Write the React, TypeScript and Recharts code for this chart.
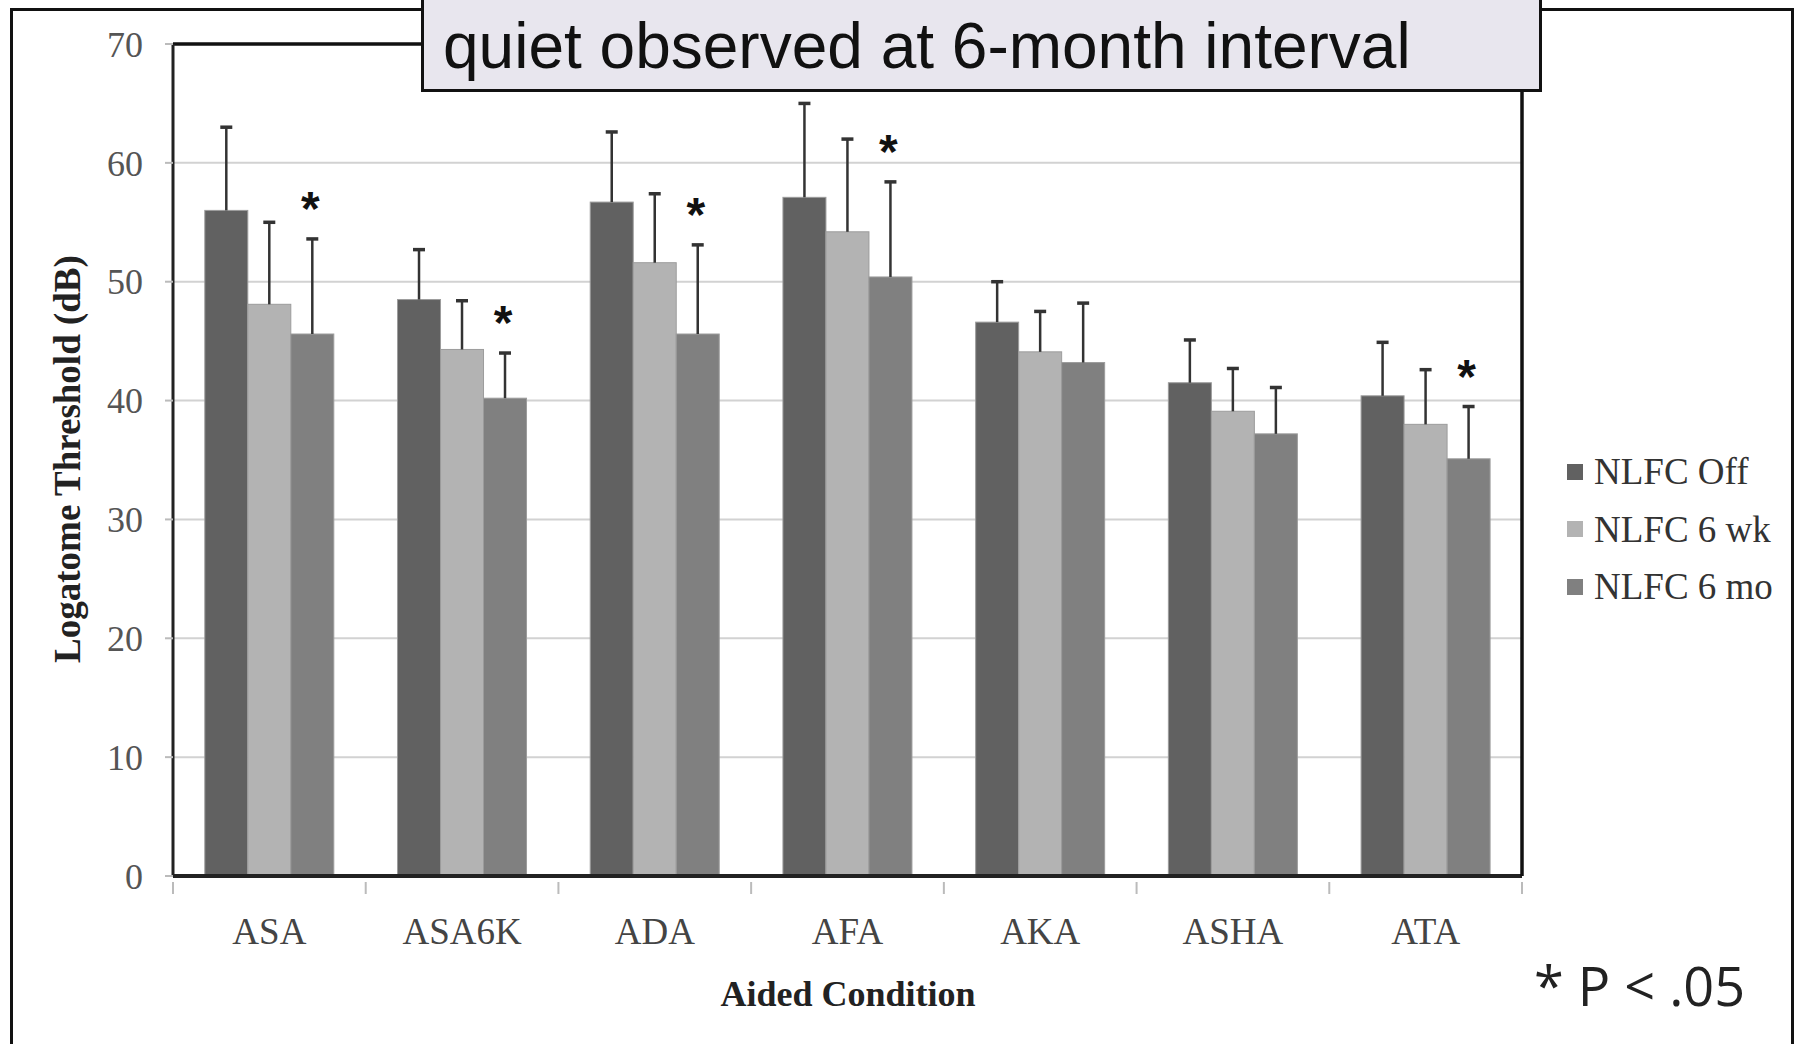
import React from 'react';
import { BarChart, Bar, XAxis, YAxis, CartesianGrid, ReferenceLine } from 'recharts';

const categories = ['ASA', 'ASA6K', 'ADA', 'AFA', 'AKA', 'ASHA', 'ATA'];
const nlfcOff = [56.0, 48.5, 56.7, 57.1, 46.6, 41.5, 40.4];
const nlfc6wk = [48.1, 44.3, 51.6, 54.2, 44.1, 39.1, 38.0];
const nlfc6mo = [45.6, 40.2, 45.6, 50.4, 43.2, 37.2, 35.1];
// upper error bar lengths (dB)
const errOff = [7.0, 4.2, 5.9, 7.9, 3.4, 3.6, 4.5];
const err6wk = [6.9, 4.1, 5.8, 7.8, 3.4, 3.6, 4.6];
const err6mo = [8.0, 3.8, 7.5, 8.0, 5.0, 3.9, 4.4];
// significant change at 6 months
const sig6mo = [true, true, true, true, false, false, true];
const yTicks = [0, 10, 20, 30, 40, 50, 60, 70];

const series = [
  { key: 'off', name: 'NLFC Off', color: '#616161' },
  { key: 'wk6', name: 'NLFC 6 wk', color: '#b3b3b3' },
  { key: 'mo6', name: 'NLFC 6 mo', color: '#808080' },
];

const data = categories.map((name, i) => ({
  name,
  off: nlfcOff[i],
  offErr: errOff[i],
  wk6: nlfc6wk[i],
  wk6Err: err6wk[i],
  mo6: nlfc6mo[i],
  mo6Err: err6mo[i],
  sig: sig6mo[i],
}));

const serif = '"Liberation Serif", "Times New Roman", serif';

const barShape = (key: string, withStar: boolean) => (props: any) => {
  const { x, y, width, height, fill, payload } = props;
  const v = payload[key];
  const ppu = v ? height / v : 0;
  const cx = x + width / 2;
  const top = y - payload[key + 'Err'] * ppu;
  return (
    <g>
      <rect x={x} y={y} width={width} height={height} fill={fill} stroke="#9c9c9c" strokeWidth={1} />
      <line x1={cx} x2={cx} y1={y} y2={top} stroke="#333" strokeWidth={2.5} />
      <line x1={cx - 6} x2={cx + 6} y1={top} y2={top} stroke="#333" strokeWidth={3.5} />
      {withStar && payload.sig && (
        <text
          x={cx - 2}
          y={top - 14}
          textAnchor="middle"
          fontFamily='"Liberation Sans", Arial, sans-serif'
          fontWeight="bold"
          fontSize={48}
          fill="#111"
        >
          *
        </text>
      )}
    </g>
  );
};

const XTick = (props: any) => {
  const { x, y, payload, index } = props;
  const half = payload.offset || 0;
  return (
    <g>
      <line x1={x - half} x2={x - half} y1={y - 2} y2={y + 10} stroke="#bbb" strokeWidth={2} />
      {index === categories.length - 1 && (
        <line x1={x + half} x2={x + half} y1={y - 2} y2={y + 10} stroke="#bbb" strokeWidth={2} />
      )}
      <text x={x} y={y + 60} textAnchor="middle" fontFamily={serif} fontSize={37} fill="#444">
        {payload.value}
      </text>
    </g>
  );
};

const App: React.FC = () => {
  return (
    <div style={{ position: 'absolute', left: 0, top: 0, width: 1808, height: 1044, overflow: 'hidden', background: '#fff' }}>
      {/* outer frame */}
      <div
        style={{
          position: 'absolute',
          left: 10,
          top: 8,
          width: 1784,
          height: 1100,
          border: '3px solid #111',
          boxSizing: 'border-box',
        }}
      />
      <div style={{ position: 'absolute', left: 0, top: 0 }}>
        <BarChart
          width={1808}
          height={1044}
          data={data}
          margin={{ top: 44, right: 276, bottom: 88, left: 73 }}
          barCategoryGap="16.5%"
          barGap={0}
        >
          <CartesianGrid vertical={false} stroke="#d2d2d2" strokeWidth={2} />
          <XAxis
            dataKey="name"
            height={80}
            tickLine={false}
            axisLine={{ stroke: '#222', strokeWidth: 4 }}
            tick={<XTick />}
            interval={0}
          />
          <YAxis
            width={100}
            domain={[0, 70]}
            ticks={yTicks}
            interval={0}
            tickSize={8}
            tickMargin={22}
            tickLine={{ stroke: '#bbb', strokeWidth: 2 }}
            axisLine={{ stroke: '#222', strokeWidth: 3 }}
            tick={{ fontFamily: serif, fontSize: 36, fill: '#555' }}
          />
          <YAxis
            yAxisId="right"
            orientation="right"
            width={10}
            domain={[0, 70]}
            tick={false}
            tickLine={false}
            axisLine={{ stroke: '#111', strokeWidth: 3.5 }}
          />
          <ReferenceLine y={70} stroke="#111" strokeWidth={3.5} />
          {series.map((s) => (
            <Bar
              key={s.key}
              dataKey={s.key}
              name={s.name}
              fill={s.color}
              isAnimationActive={false}
              shape={barShape(s.key, s.key === 'mo6')}
            />
          ))}
        </BarChart>
      </div>

      {/* axis titles */}
      <div
        style={{
          position: 'absolute',
          left: 67,
          top: 459,
          transform: 'translate(-50%, -50%) rotate(-90deg)',
          fontFamily: serif,
          fontWeight: 'bold',
          fontSize: 37,
          color: '#222',
          whiteSpace: 'nowrap',
        }}
      >
        Logatome Threshold (dB)
      </div>
      <div
        style={{
          position: 'absolute',
          left: 848,
          top: 994,
          transform: 'translate(-50%, -50%)',
          fontFamily: serif,
          fontWeight: 'bold',
          fontSize: 36,
          color: '#222',
          whiteSpace: 'nowrap',
        }}
      >
        Aided Condition
      </div>

      {/* legend */}
      <div style={{ position: 'absolute', left: 1567, top: 443, fontFamily: serif, fontSize: 37, color: '#333' }}>
        {series.map((s) => (
          <div key={s.key} style={{ display: 'flex', alignItems: 'center', height: 57.5 }}>
            <span style={{ display: 'inline-block', width: 16, height: 16, background: s.color, marginRight: 11 }} />
            <span style={{ whiteSpace: 'nowrap' }}>{s.name}</span>
          </div>
        ))}
      </div>

      {/* significance note */}
      <div
        style={{
          position: 'absolute',
          left: 1534,
          top: 985,
          transform: 'translateY(-50%)',
          fontFamily: '"Open Sans", "Noto Sans", sans-serif',
          fontSize: 54,
          color: '#222',
          whiteSpace: 'nowrap',
        }}
      >
        * P &lt; .05
      </div>

      {/* title box */}
      <div
        style={{
          position: 'absolute',
          left: 421,
          top: -40,
          width: 1121,
          height: 132,
          background: '#e8e6ee',
          border: '3.5px solid #111',
          boxSizing: 'border-box',
        }}
      >
        <div
          style={{
            position: 'absolute',
            left: 19,
            top: 51,
            fontFamily: '"Liberation Sans", Arial, sans-serif',
            fontSize: 64,
            lineHeight: '64px',
            color: '#111',
            whiteSpace: 'nowrap',
          }}
        >
          quiet observed at 6-month interval
        </div>
      </div>
    </div>
  );
};

export default App;
